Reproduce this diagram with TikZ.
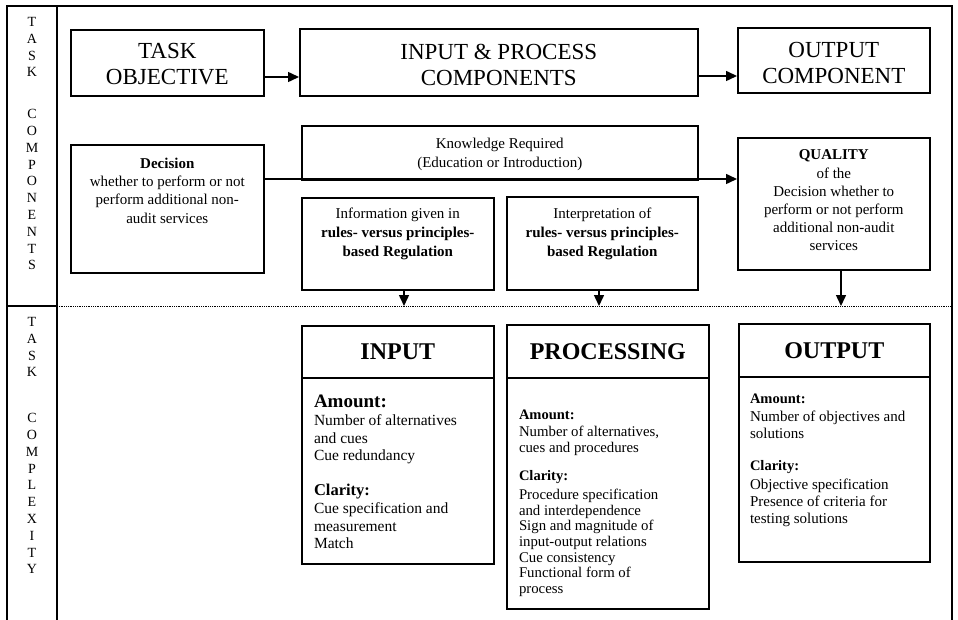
\documentclass[tikz,border=0pt]{standalone}
\usepackage{fontspec}
\setmainfont{Liberation Serif}
\usetikzlibrary{arrows.meta}
\newcommand\fsz[2]{\fontsize{#1}{#2}\selectfont}
\begin{document}
\begin{tikzpicture}[x=1pt,y=-1pt,
  box/.style={draw, line width=1.6pt, inner sep=0pt, anchor=north west},
  arr/.style={line width=1.5pt, -{Triangle[length=11pt,width=10pt]}},
  frameline/.style={line width=1.4pt},
  txt/.style={inner sep=0pt, outer sep=0pt},
  sidetxt/.style={txt, anchor=north, align=center, font=\fsz{14}{16.8}},
  headtxt/.style={txt, anchor=north, align=center, font=\fsz{23}{26}},
  midtxt/.style={txt, anchor=north, align=center, font=\fsz{15}{19}},
  bodyhead/.style={font=\fsz{24}{24}\bfseries},
]
\useasboundingbox (0,0) rectangle (958,620);

% outer frame, side column and the split between the two bands
\draw[frameline] (7,620) -- (7,6) -- (952,6) -- (952,620);
\draw[frameline] (57,6) -- (57,620);
\draw[frameline] (7,306) -- (57,306);
\draw[line width=0.9pt, dash pattern=on 1pt off 0.8pt] (57,306) -- (952,306);

% side labels
\node[sidetxt] (lt1) at (32,17.4) {T\\A\\S\\K};
\node[sidetxt] (lt2) at (32,109.4) {C\\O\\M\\P\\O\\N\\E\\N\\T\\S};
\node[sidetxt] (lb1) at (32,317.4) {T\\A\\S\\K};
\node[sidetxt] (lb2) at (32,413.4) {C\\O\\M\\P\\L\\E\\X\\I\\T\\Y};

% ---- task components band ----
\node[box, minimum width=193pt, minimum height=66pt] (taskobj) at (70,29) {};
\node[headtxt] (taskobj-t) at (taskobj.north |- 0,43.4) {TASK\\OBJECTIVE};
\node[box, minimum width=398pt, minimum height=67pt] (inproc) at (299,28) {};
\node[headtxt] (inproc-t) at (inproc.north |- 0,44.4) {INPUT \& PROCESS\\COMPONENTS};
\node[box, minimum width=192pt, minimum height=65pt] (outcomp) at (737,27) {};
\node[headtxt] (outcomp-t) at (outcomp.north |- 0,42.4) {OUTPUT\\COMPONENT};

\node[box, minimum width=193pt, minimum height=128pt] (decision) at (70,144) {};
\node[txt, anchor=north, align=center, font=\fsz{15}{18.3}] (decision-t) at (decision.north |- 0,157.8)
  {\textbf{Decision}\\whether to perform or not\\perform additional non-\\audit services};

\node[box, minimum width=396pt, minimum height=54pt] (knowledge) at (301,125) {};
\node[midtxt] (knowledge-t) at (knowledge.north |- 0,137.8) {Knowledge Required\\(Education or Introduction)};

\node[box, minimum width=192pt, minimum height=92pt] (info) at (301,197) {};
\node[midtxt] (info-t) at (info.north |- 0,207.8)
  {Information given in\\\textbf{rules- versus principles-}\\\textbf{based Regulation}};
\node[box, minimum width=191pt, minimum height=93pt] (interp) at (506,196) {};
\node[midtxt] (interp-t) at (interp.north |- 0,207.8)
  {Interpretation of\\\textbf{rules- versus principles-}\\\textbf{based Regulation}};

\node[box, minimum width=192pt, minimum height=132pt] (quality) at (737,137) {};
\node[txt, anchor=north, align=center, font=\fsz{15}{18.2}] (quality-t) at (quality.north |- 0,150)
  {\textbf{QUALITY}\\of the\\Decision whether to\\perform or not perform\\additional non-audit\\services};

% connectors
\draw[arr] (taskobj.east |- 0,77) -- (inproc.west |- 0,77);
\draw[arr] (inproc.east |- 0,76) -- (outcomp.west |- 0,76);
\draw[arr] (decision.east |- 0,179) -- (quality.west |- 0,179);
\coordinate (infoend) at (404,306);
\coordinate (interpend) at (599,306);
\coordinate (qualityend) at (841,306);
\draw[arr] (info.south -| infoend) -- (infoend);
\draw[arr] (interp.south -| interpend) -- (interpend);
\draw[arr] (quality.south -| qualityend) -- (qualityend);

% ---- task complexity band ----
\node[box, minimum width=192pt, minimum height=52pt, bodyhead] (inhead) at (301,325) {INPUT};
\node[box, minimum width=192pt, minimum height=186pt] (inbody) at (301,377) {};
\node[txt, anchor=west, font=\fsz{19}{19}\bfseries] (in-a) at (314,401) {Amount:};
\node[txt, anchor=north west, align=left, font=\fsz{15.5}{17.5}] (in-ab) at (314,414.6)
  {Number of alternatives\\and cues\\Cue redundancy};
\node[txt, anchor=west, font=\fsz{16.5}{16.5}\bfseries] (in-c) at (314,492) {Clarity:};
\node[txt, anchor=north west, align=left, font=\fsz{15.5}{17.5}] (in-cb) at (314,502.6)
  {Cue specification and\\measurement\\Match};

\node[box, minimum width=202pt, minimum height=53pt, bodyhead] (prhead) at (506,324) {PROCESSING};
\node[box, minimum width=202pt, minimum height=231pt] (prbody) at (506,377) {};
\node[txt, anchor=west, font=\fsz{14.5}{14.5}\bfseries] (pr-a) at (519,415) {Amount:};
\node[txt, anchor=north west, align=left, font=\fsz{14.8}{15.7}] (pr-ab) at (519,426)
  {Number of alternatives,\\cues and procedures};
\node[txt, anchor=west, font=\fsz{14.5}{14.5}\bfseries] (pr-c) at (519,477) {Clarity:};
\node[txt, anchor=north west, align=left, font=\fsz{14.8}{15.7}] (pr-cb) at (519,489)
  {Procedure specification\\and interdependence\\Sign and magnitude of\\input-output relations\\Cue consistency\\Functional form of\\process};

\node[box, minimum width=191pt, minimum height=53pt, bodyhead] (outhead) at (738,323) {OUTPUT};
\node[box, minimum width=191pt, minimum height=185pt] (outbody) at (738,376) {};
\node[txt, anchor=west, font=\fsz{14.5}{14.5}\bfseries] (out-a) at (750,399) {Amount:};
\node[txt, anchor=north west, align=left, font=\fsz{15}{17}] (out-ab) at (750,410.7)
  {Number of objectives and\\solutions};
\node[txt, anchor=west, font=\fsz{14.5}{14.5}\bfseries] (out-c) at (750,467) {Clarity:};
\node[txt, anchor=north west, align=left, font=\fsz{15}{17}] (out-cb) at (750,478.7)
  {Objective specification\\Presence of criteria for\\testing solutions};
\end{tikzpicture}
\end{document}
